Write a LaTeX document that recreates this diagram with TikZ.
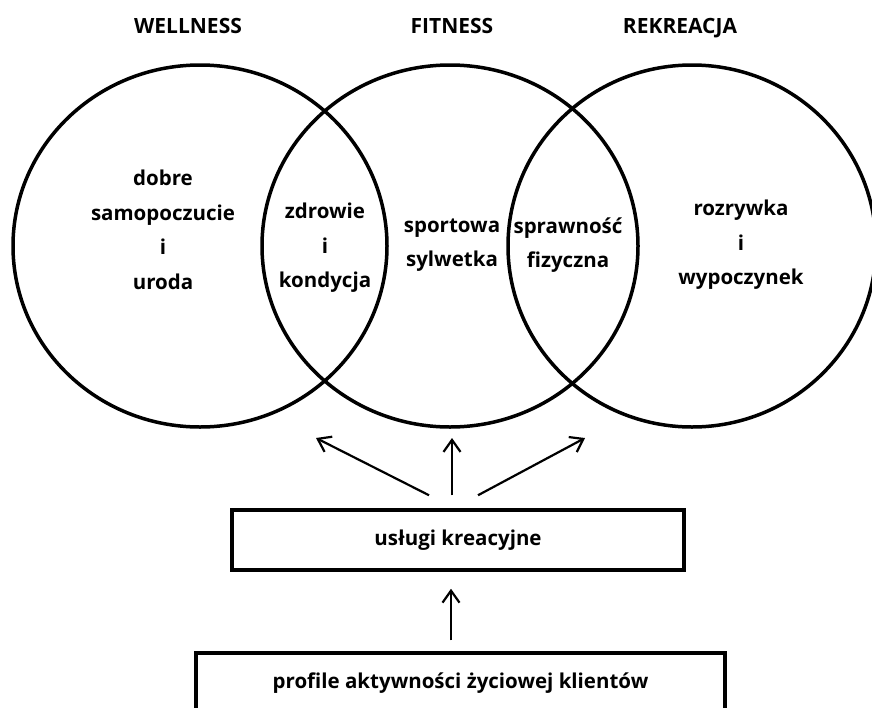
\documentclass[tikz,border=0pt]{standalone}
\usepackage{fontspec}
\setmainfont{Open Sans}
\usetikzlibrary{arrows.meta}
\begin{document}
\begin{tikzpicture}[x=1pt,y=-1pt,
    ring/.style={line width=3.5pt},
    lbl/.style={font=\fontsize{20.5}{34.5}\selectfont\bfseries,align=center,inner sep=0pt},
    head/.style={font=\fontsize{21}{24}\selectfont\bfseries,inner sep=0pt,anchor=base},
    kasten/.style={draw,line width=3.5pt,font=\fontsize{20.5}{24}\selectfont\bfseries,inner sep=0pt},
    arr/.style={line width=2.2pt,-{Straight Barb[length=12pt,width=17pt,line width=2.2pt]}}]
      \clip (0,0) rectangle (872,707);
      \node[head] (wellness) at (188,33) {WELLNESS};
      \node[head] (fitness) at (452,33) {FITNESS};
      \node[head] (rekreacja) at (680,33) {REKREACJA};
      \draw[ring] (200,246) ellipse [x radius=187pt, y radius=181pt];
      \draw[ring] (450,246) ellipse [x radius=188pt, y radius=181pt];
      \draw[ring] (692,246) ellipse [x radius=184pt, y radius=181pt];
      \node[lbl] (dobre) at (163,230) {dobre\\samopoczucie\\i\\uroda};
      \node[lbl] (zdrowie) at (325,248) {zdrowie\\i\\kondycja};
      \node[lbl] (sportowa) at (452,245) {sportowa\\sylwetka};
      \node[lbl] (sprawnosc) at (568,245) {sprawność\\fizyczna};
      \node[lbl] (rozrywka) at (741,245) {rozrywka\\i\\wypoczynek};
      \node[kasten,minimum width=452pt,minimum height=60pt] (uslugi) at (458,540) {usługi kreacyjne};
      \node[kasten,minimum width=529pt,minimum height=60pt] (profile) at (460.5,683) {profile aktywności życiowej klientów};
      \coordinate (celW) at (316,438);
      \coordinate (celF) at (452,438);
      \coordinate (celR) at (585,438);
      \draw[arr] ([shift={(-29pt,13pt)}]uslugi.north) -- (celW);
      \draw[arr] ([shift={(-6pt,13pt)}]uslugi.north) -- (celF);
      \draw[arr] ([shift={(20pt,13pt)}]uslugi.north) -- (celR);
      \draw[arr] ([shift={(-9.5pt,11pt)}]profile.north) -- ([shift={(-7pt,-17pt)}]uslugi.south);
\end{tikzpicture}
\end{document}
